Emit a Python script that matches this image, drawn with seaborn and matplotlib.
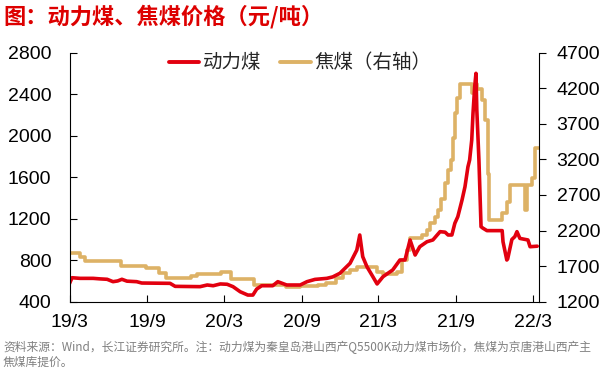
import matplotlib
matplotlib.use("Agg")
import matplotlib.pyplot as plt
import pandas as pd
import seaborn as sns
from matplotlib.lines import Line2D

# ---------------- data ----------------
thermal_dates = [
    "2019-03-01", "2019-03-07", "2019-03-26", "2019-04-26", "2019-05-12", "2019-05-29",
    "2019-06-12", "2019-06-23", "2019-07-03", "2019-07-15", "2019-08-07", "2019-08-19",
    "2019-10-25", "2019-11-06", "2020-01-04", "2020-01-21", "2020-02-04", "2020-02-21",
    "2020-03-08", "2020-03-22", "2020-04-08", "2020-04-26", "2020-05-08", "2020-05-17",
    "2020-05-29", "2020-06-24", "2020-07-06", "2020-07-27", "2020-08-28", "2020-09-13",
    "2020-10-02", "2020-10-30", "2020-11-13", "2020-11-30", "2020-12-24", "2021-01-09",
    "2021-01-16", "2021-01-23", "2021-02-02", "2021-02-16", "2021-02-26", "2021-03-12",
    "2021-04-04", "2021-04-21", "2021-05-03", "2021-05-15", "2021-05-27", "2021-06-07",
    "2021-06-24", "2021-07-08", "2021-07-25", "2021-08-06", "2021-08-13", "2021-08-22",
    "2021-08-29", "2021-09-05", "2021-09-15", "2021-09-22", "2021-09-29", "2021-10-03",
    "2021-10-08", "2021-10-11", "2021-10-15", "2021-10-18", "2021-10-20", "2021-10-25",
    "2021-10-30", "2021-11-03", "2021-11-13", "2021-12-19", "2021-12-21", "2021-12-30",
    "2022-01-01", "2022-01-11", "2022-01-18", "2022-01-23", "2022-01-30", "2022-02-18",
    "2022-02-23", "2022-03-12",
]
thermal_prices = [
    575, 631, 625, 625, 620, 616,
    593, 600, 616, 598, 593, 580,
    577, 548, 545, 561, 554, 571,
    568, 545, 496, 464, 464, 522,
    554, 554, 593, 561, 561, 593,
    615, 625, 639, 674, 770, 898,
    1043, 834, 737, 641, 571, 641,
    706, 802, 802, 995, 850, 930,
    978, 995, 1075, 1070, 1043, 1043,
    1156, 1219, 1380, 1508, 1700, 1766,
    1959, 2216, 2472, 2601, 2248, 1766,
    1123, 1110, 1085, 1085, 978, 802,
    812, 1000, 1027, 1075, 1010, 995,
    930, 935,
]

coking_dates = [
    "2019-03-01", "2019-03-26", "2019-04-07", "2019-07-01", "2019-08-28", "2019-09-29",
    "2019-10-15", "2019-12-14", "2019-12-28", "2020-02-23", "2020-03-17", "2020-05-11",
    "2020-07-25", "2020-08-28", "2020-10-09", "2020-10-28", "2020-11-21", "2020-12-07",
    "2020-12-24", "2021-01-09", "2021-02-26", "2021-03-12", "2021-04-14", "2021-04-26",
    "2021-05-08", "2021-05-15", "2021-06-12", "2021-06-24", "2021-07-01", "2021-07-13",
    "2021-07-20", "2021-07-27", "2021-08-06", "2021-08-13", "2021-08-20", "2021-08-25",
    "2021-08-29", "2021-09-03", "2021-09-10", "2021-10-09", "2021-10-16", "2021-10-20",
    "2021-11-01", "2021-11-08", "2021-11-15", "2021-11-17", "2021-12-19", "2021-12-30",
    "2022-01-07", "2022-02-11", "2022-02-16", "2022-02-28", "2022-03-07", "2022-03-15",
]
coking_prices = [
    1880, 1832, 1772, 1702, 1669, 1599,
    1529, 1561, 1585, 1613, 1515, 1435,
    1411, 1420, 1435, 1459, 1529, 1599,
    1646, 1692, 1620, 1590, 1620, 1786,
    1927, 2091, 2138, 2208, 2302, 2395,
    2489, 2650, 2864, 3051, 3192, 3497,
    3848, 4059, 4260, 4130, 4260, 4190,
    4035, 3754, 3000, 2348, 2442, 2606,
    2840, 2489, 2840, 2934, 3356, 3356,
]

tick_dates = ["2019-03-01", "2019-09-01", "2020-03-01", "2020-09-01",
              "2021-03-01", "2021-09-01", "2022-03-01"]
tick_labels = ["19/3", "19/9", "20/3", "20/9", "21/3", "21/9", "22/3"]
left_ticks = [400, 800, 1200, 1600, 2000, 2400, 2800]
right_ticks = [1200, 1700, 2200, 2700, 3200, 3700, 4200, 4700]
legend_labels = ["动力煤", "焦煤（右轴）"]
title_text = "图：动力煤、焦煤价格（元/吨）"
footer_text = ("资料来源：Wind，长江证券研究所。注：动力煤为秦皇岛港山西产Q5500K动力煤市场价，焦煤为京唐港山西产主\n"
               "焦煤库提价。")

# ---------------- style ----------------
RED = "#E2000F"
TAN = "#DDB266"
sns.set_style("ticks")
plt.rcParams["font.family"] = ["Liberation Sans", "Noto Sans CJK SC", "DejaVu Sans"]
plt.rcParams["axes.edgecolor"] = "black"
plt.rcParams["axes.linewidth"] = 0.8

thermal = pd.DataFrame({"date": pd.to_datetime(thermal_dates), "price": thermal_prices})
coking = pd.DataFrame({"date": pd.to_datetime(coking_dates), "price": coking_prices})

fig = plt.figure(figsize=(6.01, 3.68), dpi=100)
fig.patch.set_facecolor("white")
ax = fig.add_axes([69.5 / 601, 1 - 301.7 / 368, (538.5 - 69.5) / 601, (301.7 - 52.7) / 368])
ax2 = ax.twinx()

sns.lineplot(data=coking, x="date", y="price", ax=ax2, color=TAN, linewidth=2.6,
             drawstyle="steps-post", legend=False)
sns.lineplot(data=thermal, x="date", y="price", ax=ax, color=RED, linewidth=2.6,
             legend=False)

ax.set_zorder(ax2.get_zorder() + 1)
ax.patch.set_visible(False)

ax.set_xlim(pd.Timestamp("2019-03-01"), pd.Timestamp("2022-03-15"))
ax.set_ylim(400, 2800)
ax2.set_ylim(1200, 4700)
ax.set_xticks(pd.to_datetime(tick_dates))
ax.set_xticklabels(tick_labels)
ax.set_yticks(left_ticks)
ax2.set_yticks(right_ticks)
for a in (ax, ax2):
    a.set_xlabel("")
    a.set_ylabel("")
    a.spines["top"].set_visible(False)

ax.spines["right"].set_visible(False)
ax2.spines["left"].set_visible(False)
ax2.spines["bottom"].set_visible(False)

ax.tick_params(axis="y", direction="in", length=5, width=0.8, pad=13, labelsize=14, colors="black")
ax.tick_params(axis="x", direction="in", length=5, width=0.8, pad=9, labelsize=14, colors="black")
ax2.tick_params(axis="y", direction="out", length=5, width=0.8, pad=8, labelsize=14, colors="black")

handles = [Line2D([], [], color=RED, linewidth=2.8), Line2D([], [], color=TAN, linewidth=2.8)]
ax.legend(handles, legend_labels, loc="center", bbox_to_anchor=(300 / 601, 1 - 63 / 368),
          bbox_transform=fig.transFigure, ncol=2, frameon=False,
          prop={"family": ["Noto Sans CJK SC"], "size": 14},
          handlelength=1.55, handletextpad=0.2, columnspacing=1.0)

fig.text(3 / 601, 1 - 17 / 368, title_text, fontsize=16, fontweight="bold", color="#DD0000",
         family=["Noto Sans CJK SC"], ha="left", va="center")
fig.text(3 / 601, 1 - 341 / 368, footer_text, fontsize=8.5, color="#808080",
         family=["Noto Sans CJK SC"], ha="left", va="top", linespacing=1.15)

fig.savefig("out.png", dpi=100, facecolor="white")
